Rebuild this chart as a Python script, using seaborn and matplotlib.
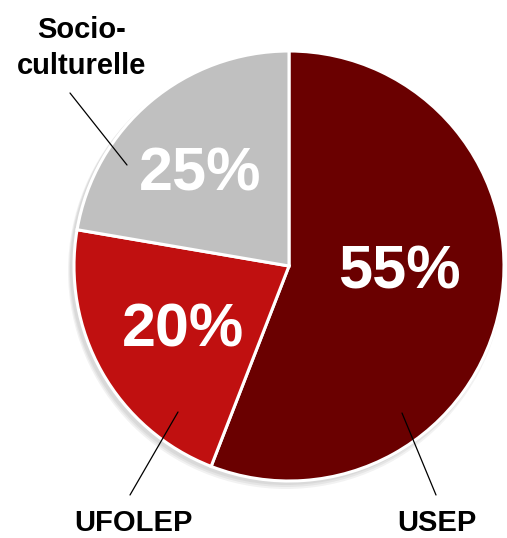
"""
Pie chart: share of school sport federations.
"""
import matplotlib
matplotlib.use("Agg")
import matplotlib.pyplot as plt
import seaborn as sns
from matplotlib.patches import Circle

# Data
categories = ["USEP", "UFOLEP", "Socio-\nculturelle"]
shares = [55.9, 21.8, 22.3]          # wedge sizes as drawn
pct_labels = ["55%", "20%", "25%"]   # printed values
colors = ["#6A0000", "#C01010", "#C0C0C0"]


def main():
    sns.set_theme(style="white")
    plt.rcParams['font.family'] = ['Liberation Sans', 'DejaVu Sans']

    fig = plt.figure(figsize=(5.07, 5.38), dpi=100)
    ax = fig.add_axes([0, 0, 1, 1])

    cx, cy, r = 289, 272, 215

    # soft shadow under the pie
    for i in range(3):
        ax.add_patch(Circle((cx - 3, cy - 3 - i), r + 1 + i, color="black",
                            alpha=0.05, lw=0, zorder=0))

    ax.pie(shares, colors=colors, startangle=90, counterclock=False,
           center=(cx, cy), radius=r, frame=True,
           wedgeprops=dict(edgecolor="white", linewidth=2.2))
    ax.set_xlim(0, 507)
    ax.set_ylim(0, 538)
    ax.set_aspect("equal")
    ax.axis("off")

    # percentage labels inside the slices
    pct_pos = [(399, 265), (183, 207), (200, 363)]
    for (x, y), lab in zip(pct_pos, pct_labels):
        ax.text(x, y, lab, ha="center", va="center", color="white",
                fontsize=44, fontweight="bold", zorder=5)

    # outer labels with leader lines
    ax.text(82, 490, categories[2], ha="center", va="center", fontsize=21,
            fontweight="bold", color="black", linespacing=1.35)
    ax.plot([70, 127], [538 - 93, 538 - 165], color="black", lw=0.9)

    ax.text(133, 1, categories[1], ha="center", va="bottom", fontsize=21,
            fontweight="bold", color="black")
    ax.plot([178, 130], [538 - 412, 538 - 495], color="black", lw=0.9)

    ax.text(437, 1, categories[0], ha="center", va="bottom", fontsize=21,
            fontweight="bold", color="black")
    ax.plot([402, 436], [538 - 413, 538 - 495], color="black", lw=0.9)

    fig.savefig("out.png", dpi=100, facecolor="white")


if __name__ == "__main__":
    main()
